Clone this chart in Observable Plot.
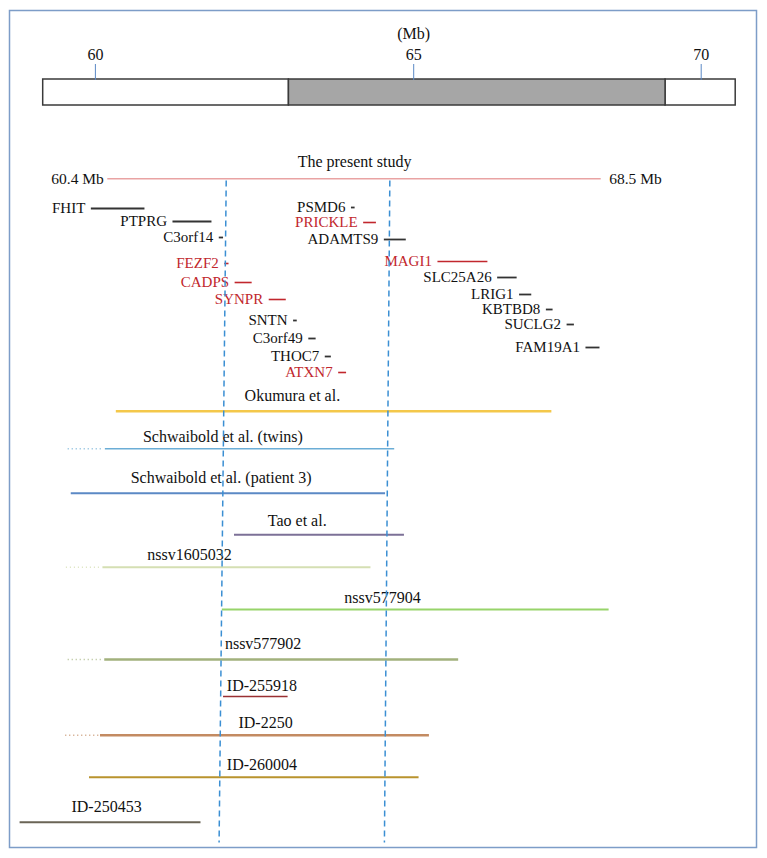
<!DOCTYPE html>
<html>
<head>
<meta charset="utf-8">
<script src="https://cdn.jsdelivr.net/npm/d3@7"></script>
<script src="https://cdn.jsdelivr.net/npm/@observablehq/plot@0.6"></script>
<style>
  body { margin: 0; background: #fff; }
  #wrap { position: relative; width: 767px; height: 858px; }
  #wrap svg { position: absolute; left: 0; top: 0; }
</style>
</head>
<body>
<div id="wrap"></div>
<script>
const SERIF = '"Liberation Serif", "DejaVu Serif", serif';

// ---- Ideogram (Mb) ----
const scaleTicks = [60, 65, 70];
const bandStart = [59.18, 63.04, 69.38];
const bandEnd   = [63.04, 69.38, 70.60];
const bandStain = ["gneg", "gpos", "gneg"];
const axisTitle = "(Mb)";

// ---- Genes (Mb) ----
const geneNames = ["FHIT","PTPRG","C3orf14","FEZF2","CADPS","SYNPR","SNTN","C3orf49","THOC7","ATXN7",
                   "PSMD6","PRICKLE","ADAMTS9","MAGI1","SLC25A26","LRIG1","KBTBD8","SUCLG2","FAM19A1"];
const geneStart = [60.13,61.47,62.23,62.32,62.49,63.05,63.45,63.70,63.97,64.19,
                   64.40,64.60,64.94,65.82,66.80,67.16,67.60,67.94,68.25];
const geneEnd   = [61.01,62.11,62.30,62.39,62.77,63.33,63.51,63.82,64.07,64.32,
                   64.46,64.81,65.30,66.64,67.12,67.36,67.71,68.06,68.48];
const geneTrack = [208,221,237,263,282,299,320,338,356,372,
                   207,222,239,261,277,294,309,324,347];
const geneCandidate = [false,false,false,true,true,true,false,false,false,true,
                       false,true,false,true,false,false,false,false,false];

// ---- Deletions / CNVs (Mb) ----
const studyNames = ["The present study","Okumura et al.","Schwaibold et al. (twins)","Schwaibold et al. (patient 3)",
                    "Tao et al.","nssv1605032","nssv577904","nssv577902","ID-255918","ID-2250","ID-260004","ID-250453"];
const studyStart = [60.40,60.54,60.36,59.80,62.48,60.32,62.28,60.35,62.30,60.28,60.10,58.96];
const studyEnd   = [68.50,67.69,65.11,64.96,65.27,64.72,68.63,66.16,63.36,65.68,65.51,61.93];
const studyExtStart = [null,null,59.75,null,null,59.72,null,59.75,null,59.71,null,null];
const studyExtEnd   = [null,null,60.32,null,null,60.28,null,60.32,null,60.28,null,null];
const studyTrack      = [178.3,410.7,448.3,492.7,534.3,566.7,609,659,696,734.7,776.7,821.7];
const studyLabelTrack = [161,395,436,477,520,554.3,597.7,643.3,685.7,722.7,764.3,806];
const studyLabelAt    = [64.45,63.43,62.29,62.26,63.51,61.74,64.91,62.95,62.93,62.99,62.93,60.38];

// present study end labels
const endLabels = ["60.4 Mb", "68.5 Mb"];
const endPos = [60.4, 68.5];

// breakpoint guide lines (Mb at top / bottom of the chart)
const guideTop    = [62.344, 65.030];
const guideBottom = [62.227, 64.941];
const guideTrackTop = 180, guideTrackBottom = 842;

// ---- Styles ----
const studyColors = ["#e9a3a3","#f4c84a","#6badd6","#5b89c5","#7c7197","#d5dfb3",
                     "#97d46a","#a2b17c","#9a3033","#c38b62","#b9932e","#6a6456"];
const studyWidths = [1.5,2.5,1.5,2,2,2,1.8,2.5,1.5,2.5,2,2];
const RED = "#c1272d", DARK = "#333333";

// ---- Build tables ----
const bands = bandStart.map((s, i) => ({start: s, end: bandEnd[i], stain: bandStain[i], lo: 0, hi: 1}));
const genes = geneNames.map((name, i) => ({name, start: geneStart[i], end: geneEnd[i], track: geneTrack[i], cand: geneCandidate[i]}));
const studies = studyNames.map((name, i) => ({
  name, start: studyStart[i], end: studyEnd[i], extStart: studyExtStart[i], extEnd: studyExtEnd[i],
  track: studyTrack[i], labelTrack: studyLabelTrack[i], labelAt: studyLabelAt[i], width: studyWidths[i]
}));
const ends = endLabels.map((t, i) => ({text: t, pos: endPos[i], track: studyTrack[0], side: i}));
const guides = guideTop.map((t, i) => ({top: t, bottom: guideBottom[i], y1: guideTrackTop, y2: guideTrackBottom}));

// ---- Main chart ----
const main = Plot.plot({
  width: 767, height: 858,
  marginLeft: 9, marginRight: 11, marginTop: 10, marginBottom: 11,
  style: {fontFamily: SERIF, fontSize: "15px", background: "transparent", color: "#111"},
  x: {type: "linear", domain: [60.4, 68.5], range: [107.3, 600.7], axis: null},
  y: {type: "linear", domain: [0, 858], range: [0, 858], axis: null},
  color: {domain: studyNames, range: studyColors},
  marks: [
    Plot.frame({stroke: "#7d9dc8", strokeWidth: 1.5}),
    // dotted extensions
    Plot.ruleY(studies.filter(d => d.extStart != null), {x1: "extStart", x2: "extEnd", y: "track", stroke: "name", strokeWidth: 1.5, strokeDasharray: "1,3", strokeOpacity: 0.85}),
    // segments
    Plot.ruleY(studies, {x1: "start", x2: "end", y: "track", stroke: "name", strokeWidth: d => d.width}),
    Plot.text(studies, {x: "labelAt", y: "labelTrack", text: "name", fill: "#111", textAnchor: "middle", lineAnchor: "middle", fontSize: 16}),
    Plot.text(ends.filter(d => d.side === 0), {x: "pos", y: "track", text: "text", textAnchor: "end", dx: -4, lineAnchor: "middle", fill: "#111", fontSize: 15.5}),
    Plot.text(ends.filter(d => d.side === 1), {x: "pos", y: "track", text: "text", textAnchor: "start", dx: 8, lineAnchor: "middle", fill: "#111", fontSize: 15.5}),
    // genes
    Plot.ruleY(genes.filter(d => !d.cand), {x1: "start", x2: "end", y: "track", stroke: DARK, strokeWidth: 1.8}),
    Plot.ruleY(genes.filter(d => d.cand), {x1: "start", x2: "end", y: "track", stroke: RED, strokeWidth: 1.6}),
    Plot.text(genes.filter(d => !d.cand), {x: "start", y: "track", text: "name", textAnchor: "end", dx: -6, lineAnchor: "middle", fill: "#111"}),
    Plot.text(genes.filter(d => d.cand), {x: "start", y: "track", text: "name", textAnchor: "end", dx: -6, lineAnchor: "middle", fill: RED}),
    // breakpoint guides
    Plot.link(guides, {x1: "top", x2: "bottom", y1: "y1", y2: "y2", stroke: "#3b8fd3", strokeWidth: 1.5, strokeDasharray: "6,4"})
  ]
});

// ---- Ideogram chart (overlay) ----
const ideo = Plot.plot({
  width: 767, height: 120,
  marginLeft: 42.5, marginRight: 32, marginTop: 79, marginBottom: 15,
  style: {fontFamily: SERIF, fontSize: "16px", background: "transparent", color: "#111", overflow: "visible"},
  x: {type: "linear", domain: [60, 65, 70], range: [94.9, 413.2, 700.7], label: null},
  y: {type: "linear", domain: [0, 1], range: [79, 105], axis: null},
  marks: [
    Plot.rect(bands.filter(d => d.stain === "gneg"), {x1: "start", x2: "end", y1: "lo", y2: "hi", fill: "white", stroke: "#3a3a3a", strokeWidth: 1.5}),
    Plot.rect(bands.filter(d => d.stain === "gpos"), {x1: "start", x2: "end", y1: "lo", y2: "hi", fill: "#a6a6a6", stroke: "#3a3a3a", strokeWidth: 1.5}),
    Plot.axisX(scaleTicks, {anchor: "top", tickSize: 16, tickPadding: 4, stroke: "#5b89c5", fill: "#111", fontSize: 16, label: null, tickFormat: d => String(d)}),
    Plot.text([{pos: 65, label: axisTitle}], {x: "pos", text: "label", frameAnchor: "top", dy: -46, lineAnchor: "middle", fontSize: 16, fill: "#111"})
  ]
});

const wrap = document.getElementById("wrap");
wrap.appendChild(main);
wrap.appendChild(ideo);
</script>
</body>
</html>
